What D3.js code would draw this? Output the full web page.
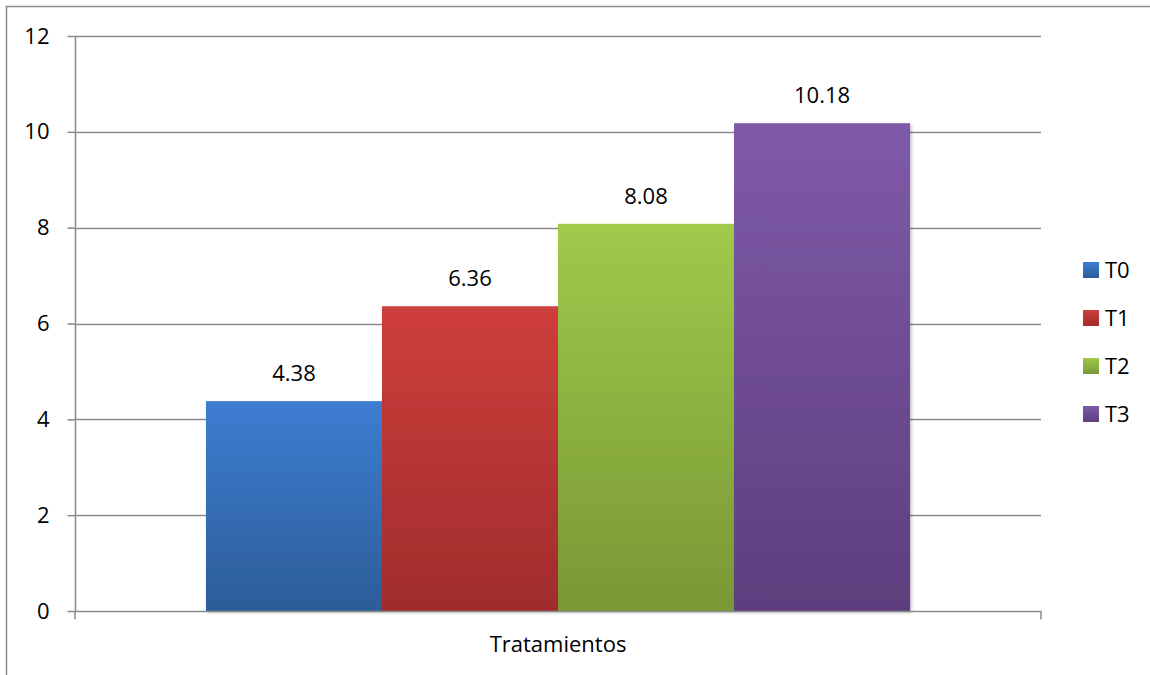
<!DOCTYPE html>
<html><head><meta charset="utf-8">
<script src="https://cdn.jsdelivr.net/npm/d3@7"></script>
<style>
html,body{margin:0;padding:0;background:#fff;}
svg{display:block;}
text{font-family:"Open Sans","Noto Sans",sans-serif;fill:#000;}
</style></head>
<body>
<svg id="c" width="1150" height="675"></svg>
<script>
const categories = ["Tratamientos"];
const seriesNames = ["T0","T1","T2","T3"];
const seriesValues = [4.38, 6.36, 8.08, 10.18];
const yTicks = [0,2,4,6,8,10,12];
const colorsTop = ["#3D7ED2","#CE3F3B","#A1C94B","#7F5AA9"];
const colorsBottom = ["#2C5D98","#A02C2C","#789835","#5D3E7D"];

const svg = d3.select("#c");
const FS = "22px";
const m = {left:75, right:1041, top:36, bottom:611};

// outer border
svg.append("rect").attr("x",6.5).attr("y",6.5).attr("width",1160).attr("height",700)
  .attr("fill","none").attr("stroke","#8c8c8c").attr("stroke-width",1.5);

const defs = svg.append("defs");
seriesNames.forEach((s,i)=>{
  const g = defs.append("linearGradient").attr("id","g"+i).attr("x1",0).attr("y1",0).attr("x2",0).attr("y2",1);
  g.append("stop").attr("offset","0%").attr("stop-color",colorsTop[i]);
  g.append("stop").attr("offset","100%").attr("stop-color",colorsBottom[i]);
});
const f = defs.append("filter").attr("id","sh").attr("x","-10%").attr("y","-10%").attr("width","130%").attr("height","130%");
f.append("feDropShadow").attr("dx",1.5).attr("dy",1.5).attr("stdDeviation",1.5).attr("flood-color","#000").attr("flood-opacity",0.25);

const y = d3.scaleLinear().domain([0,12]).range([m.bottom,m.top]);
const x0 = d3.scaleBand().domain(categories).range([m.left,m.right]).paddingInner(0).paddingOuter(0.186);
const x1 = d3.scaleBand().domain(seriesNames).range([0,x0.bandwidth()]).padding(0);

// gridlines
svg.append("g").selectAll("line").data(yTicks.filter(d=>d>0)).join("line")
  .attr("x1",m.left).attr("x2",m.right)
  .attr("y1",d=>Math.round(y(d))+0.5).attr("y2",d=>Math.round(y(d))+0.5)
  .attr("stroke","#8a8a8a").attr("stroke-width",1.5);

// y axis
const yAxis = d3.axisLeft(y).tickValues(yTicks).tickSize(8).tickPadding(18).tickFormat(d3.format("d"));
const ya = svg.append("g").attr("transform",`translate(${m.left+0.5},0)`).call(yAxis);
ya.select(".domain").attr("stroke","#8a8a8a").attr("stroke-width",1.5).attr("d",`M0,${m.top}V${m.bottom}`);
ya.selectAll(".tick line").attr("stroke","#8a8a8a").attr("stroke-width",1.5);
ya.selectAll(".tick text").style("font-size",FS).attr("fill","#000");

// bars
const gBars = svg.append("g");
seriesNames.forEach((s,i)=>{
  gBars.append("rect")
    .attr("x",x0(categories[0])+x1(s))
    .attr("y",y(seriesValues[i]))
    .attr("width",x1.bandwidth())
    .attr("height",y(0)-y(seriesValues[i]))
    .attr("fill",`url(#g${i})`)
    .attr("filter","url(#sh)");
  gBars.append("text")
    .attr("x",x0(categories[0])+x1(s)+x1.bandwidth()/2)
    .attr("y",y(seriesValues[i])-20)
    .attr("text-anchor","middle")
    .style("font-size",FS)
    .text(seriesValues[i].toFixed(2));
});

// x axis
const xAxis = d3.axisBottom(x0).tickSize(0).tickPadding(25);
const xa = svg.append("g").attr("transform",`translate(0,${m.bottom+0.5})`).call(xAxis);
xa.select(".domain").attr("stroke","#8a8a8a").attr("stroke-width",1.5).attr("d",`M${m.left},8V0H${m.right}V8`).attr("fill","none");
xa.selectAll(".tick text").style("font-size",FS).attr("fill","#000");

// legend
const lg = svg.append("g");
seriesNames.forEach((s,i)=>{
  const cy = 270 + i*48;
  lg.append("rect").attr("x",1083).attr("y",cy-8).attr("width",16).attr("height",16).attr("fill",`url(#g${i})`);
  lg.append("text").attr("x",1105).attr("y",cy).attr("dy","0.35em").style("font-size",FS).text(s);
});
</script>
</body></html>
